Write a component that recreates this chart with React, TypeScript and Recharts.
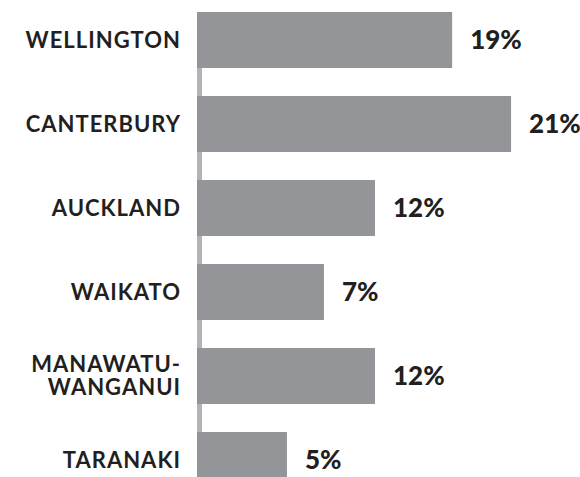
import { BarChart, Bar, XAxis, YAxis, LabelList, ReferenceLine } from 'recharts';

// Regions, top to bottom
const regions = ['WELLINGTON', 'CANTERBURY', 'AUCKLAND', 'WAIKATO', 'MANAWATU-WANGANUI', 'TARANAKI'];
// Bar lengths as drawn in the picture (percent)
const barValues = [17.1, 21.05, 11.93, 8.51, 11.93, 6.03];
// Printed value labels
const valueLabels = ['19%', '21%', '12%', '7%', '12%', '5%'];

const data = regions.map((region, i) => ({
  region,
  value: barValues[i],
  label: valueLabels[i],
}));

const BAR_COLOR = '#939598';
const AXIS_COLOR = '#b1b3b6';
const TEXT_COLOR = '#231f20';
const FONT = 'Lato, "Open Sans", sans-serif';

function RegionTick(props: any) {
  const { x, y, payload } = props;
  const name: string = payload.value;
  const style = { fontFamily: FONT, fontWeight: 700, fontSize: 22, fill: TEXT_COLOR, letterSpacing: 1 };
  if (name.includes('-')) {
    // two-line label, broken after the hyphen
    const cut = name.indexOf('-') + 1;
    return (
      <g>
        <text x={x} y={y - 4} textAnchor="end" style={style}>
          {name.slice(0, cut)}
        </text>
        <text x={x} y={y + 19} textAnchor="end" style={style}>
          {name.slice(cut)}
        </text>
      </g>
    );
  }
  return (
    <text x={x} y={y} dy={8} textAnchor="end" style={style}>
      {name}
    </text>
  );
}

export default function App() {
  return (
    <div style={{ position: 'absolute', top: 0, left: 0, width: 580, height: 477, overflow: 'hidden', background: '#fff' }}>
      <div style={{ marginTop: -2 }}>
        <BarChart
          width={580}
          height={504}
          data={data}
          layout="vertical"
          margin={{ top: 0, right: 10, bottom: 0, left: 0 }}
        >
          <XAxis type="number" domain={[0, 25]} hide />
          <YAxis
            type="category"
            dataKey="region"
            width={197}
            axisLine={false}
            tickLine={false}
            tickSize={0}
            tickMargin={16}
            tick={<RegionTick />}
            interval={0}
          />
          {/* axis rule: drawn bottom-up, stops at the top of the first bar */}
          <ReferenceLine
            x={0.1676}
            stroke={AXIS_COLOR}
            strokeWidth={5}
            strokeDasharray="490 2000"
            zIndex={-1}
          />
          <Bar dataKey="value" fill={BAR_COLOR} barSize={56} isAnimationActive={false}>
            <LabelList
              dataKey="label"
              position="right"
              offset={18}
              style={{ fontFamily: FONT, fontWeight: 900, fontSize: 26, fill: TEXT_COLOR }}
            />
          </Bar>
        </BarChart>
      </div>
    </div>
  );
}
